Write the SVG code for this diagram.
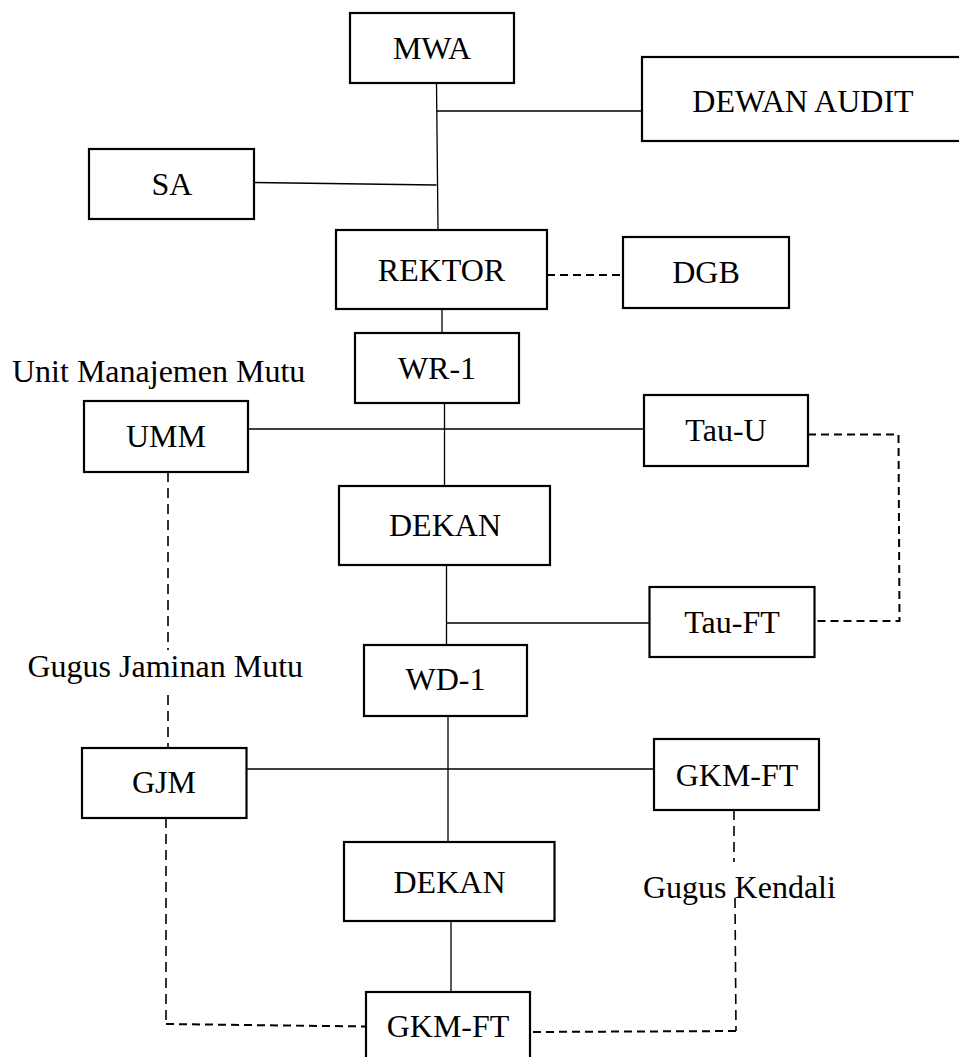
<svg xmlns="http://www.w3.org/2000/svg" width="959" height="1057" viewBox="0 0 959 1057">
<style>
.box{fill:#fff;stroke:#000;stroke-width:2.2}
.t{font-family:"Liberation Serif","Times New Roman",serif;font-size:32px;fill:#000;text-anchor:middle}
.l{font-family:"Liberation Serif","Times New Roman",serif;font-size:32px;fill:#000}
.s{fill:none;stroke:#000;stroke-width:1.3}
.d{fill:none;stroke:#000;stroke-width:2;stroke-dasharray:8 5}
.dv{fill:none;stroke:#000;stroke-width:1.6;stroke-dasharray:10 6}
</style>
<rect width="959" height="1057" fill="#fff"/>
<g id="connectors">
<path class="s" d="M436.5,83 L438,230"/>
<path class="s" d="M437,111 L642,111"/>
<path class="s" d="M254,182.5 L436.5,185"/>
<path class="s" d="M442,309 L442,333"/>
<path class="s" d="M248,429 L644,429"/>
<path class="s" d="M444.5,403 L444.5,486"/>
<path class="s" d="M446.5,565 L446.5,645"/>
<path class="s" d="M446.5,623 L649.5,623"/>
<path class="s" d="M448,716 L448,842"/>
<path class="s" d="M246.5,769 L654,769"/>
<path class="s" d="M451,921 L451,992"/>
<path class="d" d="M547,275 L623,275"/>
<path class="d" d="M808,434.5 L898.5,434.5 L899.5,621 L814.5,621"/>
<path class="dv" d="M168,472 L168,650"/>
<path class="dv" d="M168,695 L168,748"/>
<path class="dv" d="M166,818 L166,1024"/>
<path class="d" d="M166,1024 L366,1026.5"/>
<path class="dv" d="M734,810 L734,862"/>
<path class="dv" d="M735,898 L736,1031"/>
<path class="d" d="M736,1031 L530,1032"/>
</g>
<g id="MWA"><rect class="box" x="350" y="13" width="164" height="70"/><text class="t" x="432" y="59">MWA</text></g>
<g id="DEWAN_AUDIT"><rect class="box" x="642" y="57" width="330" height="84"/><text class="t" x="803" y="112">DEWAN AUDIT</text></g>
<g id="SA"><rect class="box" x="89" y="149" width="165" height="70"/><text class="t" x="172" y="195">SA</text></g>
<g id="REKTOR"><rect class="box" x="336" y="230" width="211" height="79"/><text class="t" x="441.5" y="281">REKTOR</text></g>
<g id="DGB"><rect class="box" x="623" y="237" width="166" height="71"/><text class="t" x="706" y="283">DGB</text></g>
<g id="WR-1"><rect class="box" x="355" y="333" width="164" height="70"/><text class="t" x="437" y="379">WR-1</text></g>
<g id="UMM"><rect class="box" x="84" y="401" width="164" height="71"/><text class="t" x="166" y="447">UMM</text></g>
<g id="Tau-U"><rect class="box" x="644" y="395" width="164" height="71"/><text class="t" x="726" y="441">Tau-U</text></g>
<g id="DEKAN1"><rect class="box" x="339" y="486" width="211" height="79"/><text class="t" x="445" y="536">DEKAN</text></g>
<g id="Tau-FT"><rect class="box" x="649.5" y="587" width="165" height="70"/><text class="t" x="732" y="633">Tau-FT</text></g>
<g id="WD-1"><rect class="box" x="364" y="645" width="163" height="71"/><text class="t" x="445.5" y="690">WD-1</text></g>
<g id="GJM"><rect class="box" x="82" y="748" width="164.5" height="70"/><text class="t" x="164" y="793">GJM</text></g>
<g id="GKM-FT1"><rect class="box" x="654" y="739" width="165" height="71"/><text class="t" x="737" y="786">GKM-FT</text></g>
<g id="DEKAN2"><rect class="box" x="344" y="842" width="210.5" height="79"/><text class="t" x="449.5" y="893">DEKAN</text></g>
<g id="GKM-FT2"><rect class="box" x="366" y="992" width="164" height="80"/><text class="t" x="448" y="1037">GKM-FT</text></g>
<g id="labels">
<text class="l" x="12" y="382">Unit Manajemen Mutu</text>
<text class="l" x="27.5" y="677">Gugus Jaminan Mutu</text>
<text class="l" x="643" y="898">Gugus Kendali</text>
</g>
</svg>
